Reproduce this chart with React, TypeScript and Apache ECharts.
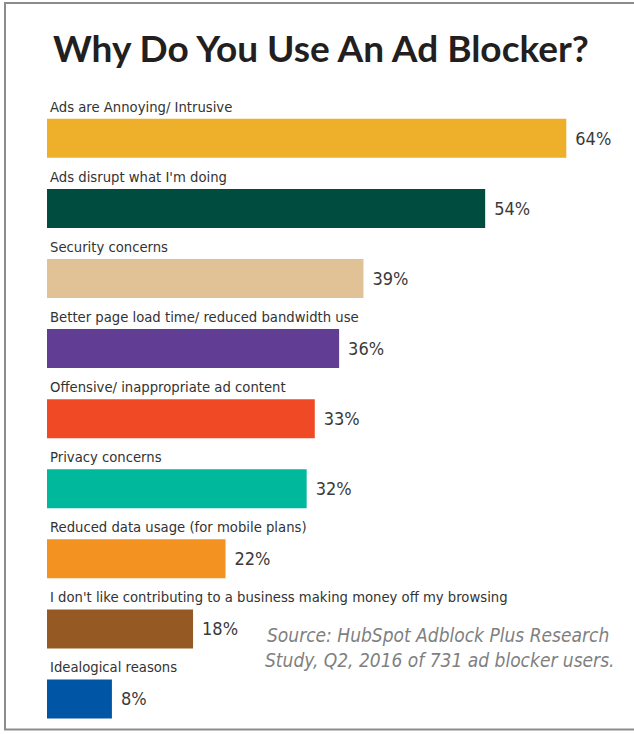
import React, { useEffect, useRef } from "react";
import * as echarts from "echarts";

const categories = [
  "Ads are Annoying/ Intrusive",
  "Ads disrupt what I'm doing",
  "Security concerns",
  "Better page load time/ reduced bandwidth use",
  "Offensive/ inappropriate ad content",
  "Privacy concerns",
  "Reduced data usage (for mobile plans)",
  "I don't like contributing to a business making money off my browsing",
  "Idealogical reasons",
];
const values = [64, 54, 39, 36, 33, 32, 22, 18, 8];
const barColors = [
  "#EEAF2A",
  "#004D40",
  "#E1C297",
  "#623D94",
  "#EF4A25",
  "#00B89C",
  "#F39220",
  "#955A24",
  "#0055A5",
];
const titleText = "Why Do You Use An Ad Blocker?";
const sourceLines = [
  "Source: HubSpot Adblock Plus Research",
  "Study, Q2, 2016 of 731 ad blocker users.",
];

const NARROW = "'Liberation Sans Narrow', 'DejaVu Sans Condensed', sans-serif";

export default function App() {
  const ref = useRef<HTMLDivElement>(null);
  useEffect(() => {
    if (!ref.current) return;
    const chart = echarts.init(ref.current, undefined, { renderer: "svg" });
    chart.setOption({
      animation: false,
      backgroundColor: "#ffffff",
      title: {
        text: titleText,
        left: 48,
        top: 24,
        textStyle: {
          fontFamily: "Lato, 'Noto Sans', sans-serif",
          fontWeight: "bold",
          fontSize: 37,
          color: "#231f20",
        },
      },
      grid: { left: 47, top: 103.3, width: 568, height: 633.6, containLabel: false },
      xAxis: {
        type: "value",
        min: 0,
        max: 70,
        show: false,
      },
      yAxis: {
        type: "category",
        data: categories,
        inverse: true,
        show: false,
      },
      series: [
        {
          type: "bar",
          data: values.map((v, i) => ({ value: v, itemStyle: { color: barColors[i] } })),
          barWidth: 39,
          barGap: "-100%",
          label: {
            show: true,
            position: "right",
            distance: 9,
            formatter: (p: any) => p.value + "%",
            fontFamily: NARROW,
            fontSize: 18,
            color: "#3a3a3a",
          },
        },
        {
          type: "bar",
          data: values,
          barWidth: 39,
          barGap: "-100%",
          itemStyle: { color: "rgba(0,0,0,0)" },
          silent: true,
          label: {
            show: true,
            position: [3, -5],
            align: "left",
            verticalAlign: "bottom",
            formatter: (p: any) => categories[p.dataIndex],
            fontFamily: NARROW,
            fontSize: 14.7,
            color: "#333333",
          },
        },
      ],
      graphic: [
        {
          type: "polyline",
          shape: { points: [[634, 3], [5, 3], [5, 729.5], [634, 729.5]] },
          style: { stroke: "#8c8c8c", lineWidth: 2, fill: "none" },
          silent: true,
        },
        {
          type: "text",
          left: 267,
          top: 625,
          style: {
            text: sourceLines[0],
            font: "italic 19px " + NARROW,
            fill: "#7f7f7f",
          },
        },
        {
          type: "text",
          left: 265,
          top: 650,
          style: {
            text: sourceLines[1],
            font: "italic 19px " + NARROW,
            fill: "#7f7f7f",
          },
        },
      ],
    });
    return () => chart.dispose();
  }, []);
  return (
    <div
      ref={ref}
      style={{ position: "fixed", left: 0, top: 0, width: 634, height: 734 }}
    />
  );
}
